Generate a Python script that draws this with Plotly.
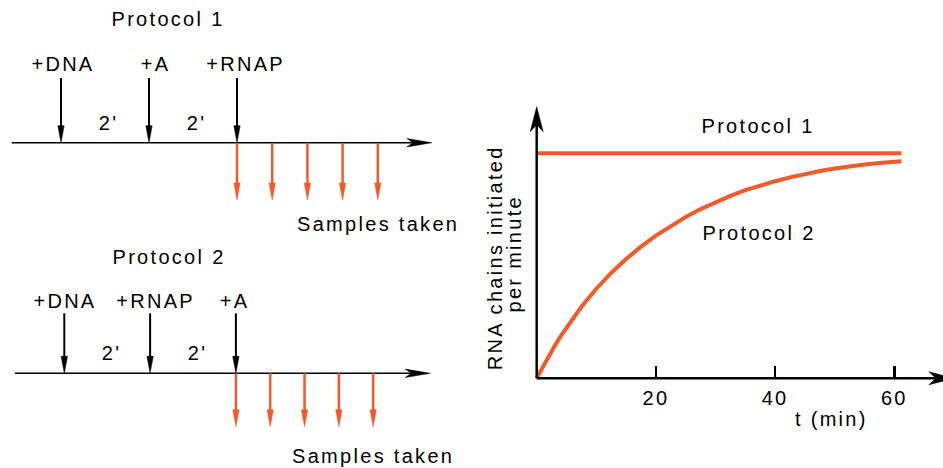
import plotly.graph_objects as go

W, H = 943, 468
RED = '#f15a2b'
BLACK = '#000000'
FONT = 'Liberation Sans, Arial, Helvetica, sans-serif'
FS = 20

# ---------------- data ----------------
p1_title = 'Protocol 1'
p1_events = ['+DNA', '+A', '+RNAP']
p1_event_times = [0, 2, 4]            # minutes
p2_title = 'Protocol 2'
p2_events = ['+DNA', '+RNAP', '+A']
p2_event_times = [0, 2, 4]
interval_label = "2'"
sample_times = [4.0, 4.8, 5.6, 6.4, 7.2]
samples_label = 'Samples taken'

t_min = [0, 1, 2, 3, 4, 5, 7.5, 10, 12.5, 15, 17.5, 20, 22.5, 25, 27.5, 30, 32.5, 35,
         37.5, 40, 42.5, 45, 47.5, 50, 52.5, 55, 58, 61.2]
protocol1_rate = [1.0, 1.0, 1.0, 1.0, 1.0, 1.0, 1.0, 1.0, 1.0, 1.0, 1.0, 1.0, 1.0, 1.0,
                  1.0, 1.0, 1.0, 1.0, 1.0, 1.0, 1.0, 1.0, 1.0, 1.0, 1.0, 1.0, 1.0, 1.0]
protocol2_rate = [0.0, 0.05, 0.098, 0.143, 0.186, 0.226, 0.318, 0.398, 0.468, 0.53, 0.585,
                  0.634, 0.678, 0.717, 0.752, 0.783, 0.811, 0.836, 0.857, 0.876, 0.893,
                  0.908, 0.921, 0.932, 0.942, 0.950, 0.958, 0.965]
x_ticks = [20, 40, 60]
x_title = 't (min)'
y_title_lines = ['RNA chains initiated', 'per minute']
curve_labels = ['Protocol 1', 'Protocol 2']

# ---------------- layout geometry (pixels) ----------------
def rng(origin_px, px_per_unit, lo_px, hi_px):
    return [(lo_px - origin_px) / px_per_unit, (hi_px - origin_px) / px_per_unit]

LEFT_DOM = [0, 0.5]
RIGHT_DOM = [0.5, 1.0]
left_lo, left_hi = 0, W * 0.5
right_lo, right_hi = W * 0.5, W

# protocol geometry: origin px of t=0, px per minute, timeline y (px from top)
geo = {
    1: dict(x0=61.0, sx=44.0, ty=142.7, top=64.7, red=57.3, tl=(-1.12, 8.43),
            title_y=123.5, lab_y=78.5, int_y=20.2, samp_y=-81.3,
            lab_dx=[2, 7, 8], xref='x2', yref='y2'),
    2: dict(x0=64.3, sx=42.9, ty=373.3, top=60.0, red=53.4, tl=(-1.15, 8.53),
            title_y=116.6, lab_y=72.5, int_y=20.8, samp_y=-82.5,
            lab_dx=[1.5, 5, -1], xref='x3', yref='y3'),
}

fig = go.Figure()
annotations = []


def poly(xs, ys, color, xref, yref):
    fig.add_trace(go.Scatter(x=xs, y=ys, mode='lines', fill='toself', fillcolor=color,
                             line=dict(color=color, width=0.5), hoverinfo='skip',
                             showlegend=False, xaxis=xref, yaxis=yref))


def seg(xs, ys, color, width, xref, yref):
    fig.add_trace(go.Scatter(x=xs, y=ys, mode='lines', line=dict(color=color, width=width),
                             hoverinfo='skip', showlegend=False, xaxis=xref, yaxis=yref))


def down_arrow(x, y_top, y_tip, hl, hw, color, width, xref, yref):
    seg([x, x], [y_top, y_tip + hl * 0.6], color, width, xref, yref)
    poly([x - hw, x + hw, x, x - hw], [y_tip + hl, y_tip + hl, y_tip, y_tip + hl], color, xref, yref)


def text(s, x, y, xref, yref, xshift=0, yshift=0, angle=0):
    annotations.append(dict(text=s, x=x, y=y, xref=xref, yref=yref, showarrow=False,
                            xanchor='center', yanchor='middle', xshift=xshift, yshift=yshift,
                            textangle=angle, font=dict(family=FONT, size=FS, color=BLACK)))


protocols = {1: (p1_title, p1_events, p1_event_times), 2: (p2_title, p2_events, p2_event_times)}
for k, (title, events, times) in protocols.items():
    g = geo[k]
    xr, yr = g['xref'], g['yref']
    sx = g['sx']
    # timeline with barbed arrowhead
    t0, t1 = g['tl']
    L, hw, notch = 25 / sx, 4.2, 6 / sx
    seg([t0, t1 - L + notch], [0, 0], BLACK, 1.5, xr, yr)
    poly([t1, t1 - L, t1 - L + notch, t1 - L, t1], [0, hw, 0, -hw, 0], BLACK, xr, yr)
    # addition arrows
    for name, t, dx in zip(events, times, g['lab_dx']):
        down_arrow(t, g['top'], 0, 17, 3.2 / sx, BLACK, 2, xr, yr)
        text(name, t, g['lab_y'], xr, yr, xshift=dx)
    # interval labels
    for a, b in zip(times[:-1], times[1:]):
        text(interval_label, (a + b) / 2, g['int_y'], xr, yr, xshift=3 if k == 1 else 4)
    # sample arrows
    for s in sample_times:
        down_arrow(s, 0, -g['red'], 17, 3.2 / sx, RED, 2.5, xr, yr)
    text(samples_label, sample_times[-1], g['samp_y'], xr, yr, xshift=0)
    text(title, (times[0] + times[-1]) / 2, g['title_y'], xr, yr, xshift=168 - (g['x0'] + 2 * sx) + (1 if k == 2 else 0))

# ---------------- right plot ----------------
RX0, RSX = 536.7, 5.96          # t=0 px, px per minute
RY0, RSY = 378.3, 225.0         # rate 0 px from top, px per unit
y_tip, x_tip = 1.207, 70.0

# curves
fig.add_trace(go.Scatter(x=t_min, y=protocol1_rate, mode='lines', line=dict(color=RED, width=4),
                         hoverinfo='skip', showlegend=False, xaxis='x', yaxis='y'))
fig.add_trace(go.Scatter(x=t_min, y=protocol2_rate, mode='lines', line=dict(color=RED, width=4),
                         hoverinfo='skip', showlegend=False, xaxis='x', yaxis='y'))

# axes with barbed arrowheads
Ly, hwy, ny = 25 / RSY, 6.5 / RSX, 7 / RSY
seg([0, 0], [0, y_tip - Ly + ny], BLACK, 2.5, 'x', 'y')
poly([0, -hwy, 0, hwy, 0], [y_tip, y_tip - Ly, y_tip - Ly + ny, y_tip - Ly, y_tip], BLACK, 'x', 'y')
Lx, hwx, nx = 25 / RSX, 6.5 / RSY, 7 / RSX
seg([0, x_tip - Lx + nx], [0, 0], BLACK, 2.5, 'x', 'y')
poly([x_tip, x_tip - Lx, x_tip - Lx + nx, x_tip - Lx, x_tip], [0, hwx, 0, -hwx, 0], BLACK, 'x', 'y')

# labels
text(curve_labels[0], (758.3 - RX0) / RSX, (RY0 - 125.8) / RSY, 'x', 'y')
text(curve_labels[1], (759.0 - RX0) / RSX, (RY0 - 232.5) / RSY, 'x', 'y')
text(x_title, (831.7 - RX0) / RSX, (RY0 - 419.0) / RSY, 'x', 'y')
annotations.append(dict(text=y_title_lines[0], x=495 / W, y=1 - 258.3 / H, xref='paper', yref='paper',
                        showarrow=False, textangle=-90, xanchor='center', yanchor='middle',
                        font=dict(family=FONT, size=FS, color=BLACK)))
annotations.append(dict(text=y_title_lines[1], x=514 / W, y=1 - 254 / H, xref='paper', yref='paper',
                        showarrow=False, textangle=-90, xanchor='center', yanchor='middle',
                        font=dict(family=FONT, size=FS, color=BLACK)))

hidden = dict(visible=False, showgrid=False, zeroline=False, fixedrange=True)
fig.update_layout(
    width=W, height=H, margin=dict(l=0, r=0, t=0, b=0),
    paper_bgcolor='white', plot_bgcolor='rgba(0,0,0,0)',
    showlegend=False, hovermode=False,
    xaxis=dict(domain=RIGHT_DOM, range=rng(RX0, RSX, right_lo, right_hi), anchor='free',
               position=(H - RY0) / H, showgrid=False, zeroline=False, showline=False,
               tickmode='array', tickvals=x_ticks, ticktext=[str(v) for v in x_ticks],
               ticks='inside', ticklen=12, tickwidth=2.5, tickcolor=BLACK,
               ticklabelstandoff=6,
               tickfont=dict(family=FONT, size=FS, color=BLACK), fixedrange=True),
    yaxis=dict(domain=[0, 1], range=[-(H - RY0) / RSY, RY0 / RSY], anchor='x', **hidden),
    xaxis2=dict(domain=LEFT_DOM, range=rng(geo[1]['x0'], geo[1]['sx'], left_lo, left_hi), anchor='y2', **hidden),
    yaxis2=dict(domain=[0, 1], range=[-(H - geo[1]['ty']), geo[1]['ty']], anchor='x2', **hidden),
    xaxis3=dict(domain=LEFT_DOM, range=rng(geo[2]['x0'], geo[2]['sx'], left_lo, left_hi), anchor='y3', **hidden),
    yaxis3=dict(domain=[0, 1], range=[-(H - geo[2]['ty']), geo[2]['ty']], anchor='x3', **hidden),
    annotations=annotations,
)

post = """
document.body.style.margin = '0';
document.body.style.padding = '0';
var gd = document.getElementById('{plot_id}');
function ls(){ var ts = gd.querySelectorAll('text'); for (var i=0;i<ts.length;i++){ ts[i].style.letterSpacing='2.3px'; } }
ls();
if (gd.on) { gd.on('plotly_afterplot', ls); }
setTimeout(ls, 50);
"""
fig.write_html('out.html', post_script=post, config={'displayModeBar': False, 'staticPlot': True})
